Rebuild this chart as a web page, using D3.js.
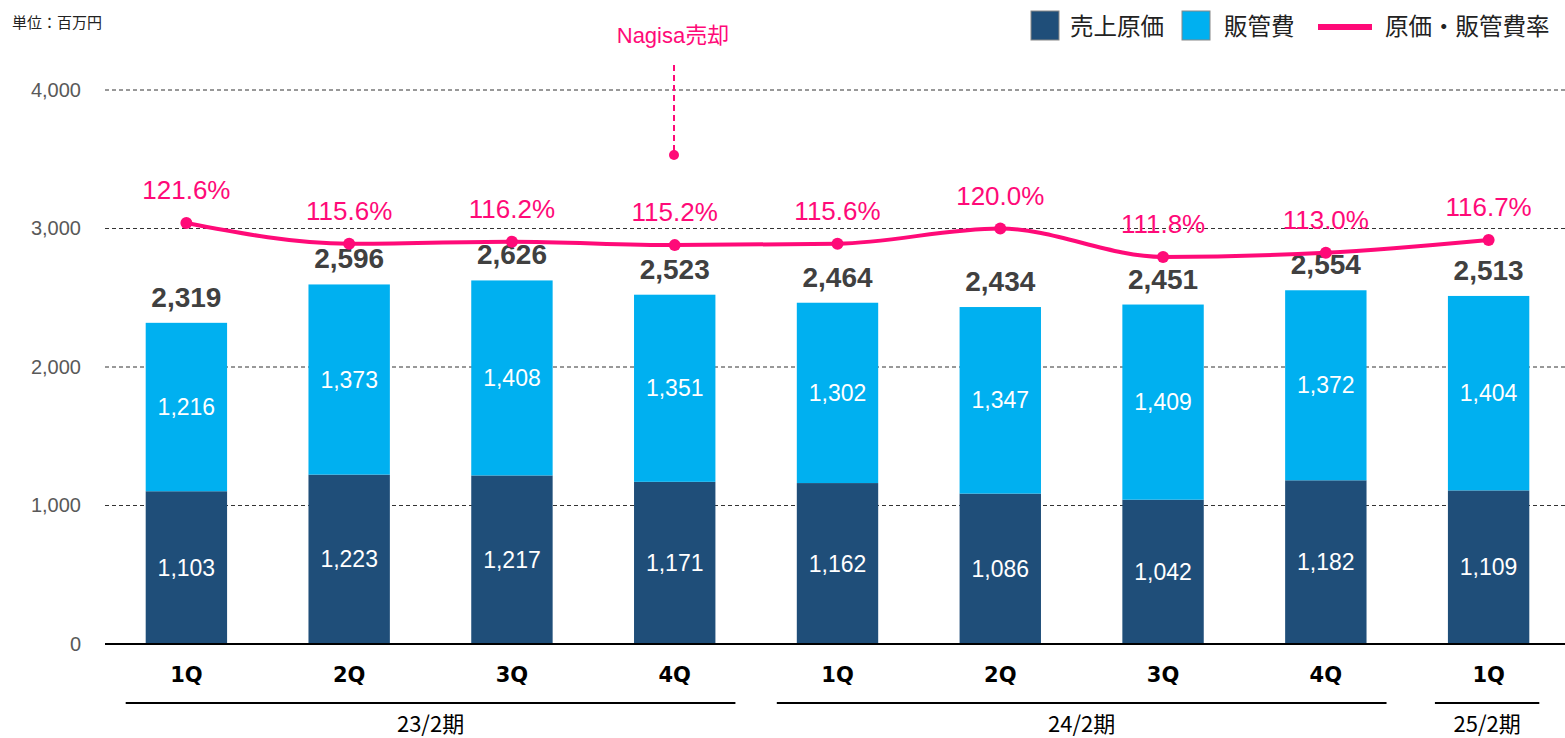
<!DOCTYPE html>
<html>
<head>
<meta charset="utf-8">
<script src="https://cdn.jsdelivr.net/npm/d3@7"></script>
<style>
  body { margin: 0; background: #fff; }
  svg { display: block; font-family: "Liberation Sans", Arial, "Noto Sans CJK JP", sans-serif; }
  .jp { font-family: "Noto Sans CJK JP", "Liberation Sans", sans-serif; }
</style>
</head>
<body>
<div id="chart"></div>
<script>
// data
var quarters = ["1Q", "2Q", "3Q", "4Q", "1Q", "2Q", "3Q", "4Q", "1Q"];
var costOfSales = [1103, 1223, 1217, 1171, 1162, 1086, 1042, 1182, 1109];
var sgaCost = [1216, 1373, 1408, 1351, 1302, 1347, 1409, 1372, 1404];
var totals = [2319, 2596, 2626, 2523, 2464, 2434, 2451, 2554, 2513];
var ratio = [121.6, 115.6, 116.2, 115.2, 115.6, 120.0, 111.8, 113.0, 116.7];
var periods = [
  { label: "23/2期", from: 0, to: 3 },
  { label: "24/2期", from: 4, to: 7 },
  { label: "25/2期", from: 8, to: 8 }
];
var yTicks = [0, 1000, 2000, 3000, 4000];

var W = 1565, H = 738;
var darkBlue = "#1f4e79", lightBlue = "#00b0f0", pink = "#ff0a78";

var svg = d3.select("#chart").append("svg")
  .attr("width", W)
  .attr("height", H);

var idx = d3.range(quarters.length);

var x = d3.scaleBand()
  .domain(idx)
  .range([105, 1570])
  .paddingInner(0.5)
  .paddingOuter(0.25);

var y = d3.scaleLinear().domain([0, 4000]).range([644, 90]);
var y2 = d3.scaleLinear().domain([0, 160]).range([644, 90]);

var cx = function(i) { return x(i) + x.bandwidth() / 2; };

// gridlines
svg.append("g")
  .selectAll("line")
  .data(yTicks.filter(function(d) { return d > 0; }))
  .enter().append("line")
  .attr("x1", 105).attr("x2", W)
  .attr("y1", function(d) { return y(d); })
  .attr("y2", function(d) { return y(d); })
  .attr("stroke", "#333")
  .attr("stroke-width", 1)
  .attr("stroke-dasharray", "4,3");

// y axis labels
var yAxis = d3.axisLeft(y)
  .tickValues(yTicks)
  .tickFormat(d3.format(","))
  .tickSize(0)
  .tickPadding(0);
var ga = svg.append("g")
  .attr("transform", "translate(81,0)")
  .call(yAxis);
ga.select(".domain").remove();
ga.selectAll("text")
  .attr("fill", "#595959")
  .style("font-size", "20px")
  .style("font-family", "'Liberation Sans', Arial, sans-serif");

// bars
var bars = svg.append("g");
bars.selectAll(".cost")
  .data(idx)
  .enter().append("rect")
  .attr("x", function(i) { return x(i); })
  .attr("width", x.bandwidth())
  .attr("y", function(i) { return y(costOfSales[i]); })
  .attr("height", function(i) { return y(0) - y(costOfSales[i]); })
  .attr("fill", darkBlue);

bars.selectAll(".sga")
  .data(idx)
  .enter().append("rect")
  .attr("x", function(i) { return x(i); })
  .attr("width", x.bandwidth())
  .attr("y", function(i) { return y(costOfSales[i] + sgaCost[i]); })
  .attr("height", function(i) { return y(costOfSales[i]) - y(costOfSales[i] + sgaCost[i]); })
  .attr("fill", lightBlue);

// baseline
svg.append("line")
  .attr("x1", 105).attr("x2", W)
  .attr("y1", y(0)).attr("y2", y(0))
  .attr("stroke", "#000")
  .attr("stroke-width", 2);

// segment labels
var fmt = d3.format(",");
svg.append("g").selectAll("text")
  .data(idx)
  .enter().append("text")
  .attr("x", cx)
  .attr("y", function(i) { return (y(0) + y(costOfSales[i])) / 2 + 8; })
  .attr("text-anchor", "middle")
  .attr("fill", "#fff")
  .style("font-size", "23px")
  .text(function(i) { return fmt(costOfSales[i]); });

svg.append("g").selectAll("text")
  .data(idx)
  .enter().append("text")
  .attr("x", cx)
  .attr("y", function(i) { return (y(costOfSales[i]) + y(costOfSales[i] + sgaCost[i])) / 2 + 8; })
  .attr("text-anchor", "middle")
  .attr("fill", "#fff")
  .style("font-size", "23px")
  .text(function(i) { return fmt(sgaCost[i]); });

// totals
svg.append("g").selectAll("text")
  .data(idx)
  .enter().append("text")
  .attr("x", cx)
  .attr("y", function(i) { return y(costOfSales[i] + sgaCost[i]) - 16; })
  .attr("text-anchor", "middle")
  .attr("fill", "#404040")
  .style("font-size", "28px")
  .style("font-weight", "bold")
  .text(function(i) { return fmt(totals[i]); });

// ratio line
var line = d3.line()
  .x(function(i) { return cx(i); })
  .y(function(i) { return y2(ratio[i]); })
  .curve(d3.curveMonotoneX);

svg.append("path")
  .datum(idx)
  .attr("d", line)
  .attr("fill", "none")
  .attr("stroke", pink)
  .attr("stroke-width", 4);

svg.append("g").selectAll("circle")
  .data(idx)
  .enter().append("circle")
  .attr("cx", cx)
  .attr("cy", function(i) { return y2(ratio[i]); })
  .attr("r", 6)
  .attr("fill", pink);

svg.append("g").selectAll("text")
  .data(idx)
  .enter().append("text")
  .attr("x", cx)
  .attr("y", function(i) { return y2(ratio[i]) - 24; })
  .attr("text-anchor", "middle")
  .attr("fill", pink)
  .style("font-size", "26px")
  .text(function(i) { return ratio[i].toFixed(1) + "%"; });

// annotation
svg.append("text")
  .attr("x", 673).attr("y", 43)
  .attr("text-anchor", "middle")
  .attr("fill", pink)
  .style("font-size", "22px")
  .style("font-family", "'Liberation Sans', 'Noto Sans CJK JP', sans-serif")
  .text("Nagisa売却");
svg.append("line")
  .attr("x1", 674).attr("x2", 674)
  .attr("y1", 65).attr("y2", 155)
  .attr("stroke", pink)
  .attr("stroke-width", 2)
  .attr("stroke-dasharray", "6,4");
svg.append("circle")
  .attr("cx", 674).attr("cy", 155)
  .attr("r", 5)
  .attr("fill", pink);

// x labels
svg.append("g").selectAll("text")
  .data(idx)
  .enter().append("text")
  .attr("x", cx)
  .attr("y", 682)
  .attr("text-anchor", "middle")
  .attr("fill", "#000")
  .style("font-size", "21px")
  .style("font-weight", "bold")
  .style("font-family", "'DejaVu Sans', sans-serif")
  .text(function(i) { return quarters[i]; });

// period brackets
var pg = svg.append("g");
periods.forEach(function(p) {
  var x1 = x(p.from) - 20, x2 = x(p.to) + x.bandwidth() + 20;
  if (p.from === p.to) { x1 = x(p.from) - 13; x2 = x(p.to) + x.bandwidth() + 10; }
  pg.append("line")
    .attr("x1", x1).attr("x2", x2)
    .attr("y1", 703).attr("y2", 703)
    .attr("stroke", "#000")
    .attr("stroke-width", 2);
  pg.append("text")
    .attr("class", "jp")
    .attr("x", (x1 + x2) / 2)
    .attr("y", 732)
    .attr("text-anchor", "middle")
    .attr("fill", "#000")
    .style("font-size", "22px")
    .text(p.label);
});

// unit
svg.append("text")
  .attr("class", "jp")
  .attr("x", 12).attr("y", 28)
  .attr("fill", "#222")
  .style("font-size", "15px")
  .text("単位：百万円");

// legend
var lg = svg.append("g").attr("class", "jp");
lg.append("rect").attr("x", 1031).attr("y", 11).attr("width", 28).attr("height", 29)
  .attr("fill", darkBlue).attr("stroke", "#888").attr("stroke-width", 1);
lg.append("text").attr("x", 1070).attr("y", 35).style("font-size", "23.5px").attr("fill", "#222").text("売上原価");
lg.append("rect").attr("x", 1182).attr("y", 11).attr("width", 28).attr("height", 29)
  .attr("fill", lightBlue).attr("stroke", "#888").attr("stroke-width", 1);
lg.append("text").attr("x", 1224).attr("y", 35).style("font-size", "23.5px").attr("fill", "#222").text("販管費");
lg.append("line").attr("x1", 1318).attr("x2", 1372).attr("y1", 27).attr("y2", 27)
  .attr("stroke", pink).attr("stroke-width", 6);
lg.append("text").attr("x", 1385).attr("y", 35).style("font-size", "23.5px").attr("fill", "#222").text("原価・販管費率");
</script>
</body>
</html>
